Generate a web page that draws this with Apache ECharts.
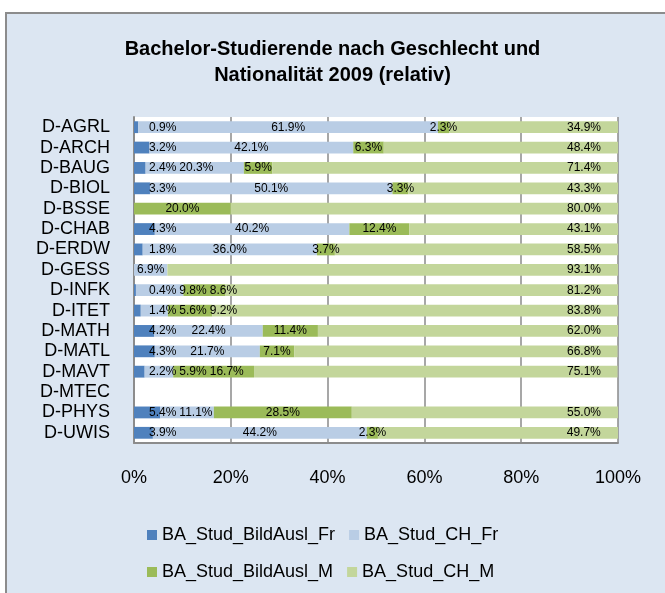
<!DOCTYPE html>
<html><head><meta charset="utf-8">
<script src="https://cdn.jsdelivr.net/npm/echarts@6/dist/echarts.min.js"></script>
<style>html,body{margin:0;padding:0;background:#fff;}#c{width:665px;height:593px;}</style>
</head><body><div id="c"></div>
<script>
const categories = ['D-AGRL','D-ARCH','D-BAUG','D-BIOL','D-BSSE','D-CHAB','D-ERDW','D-GESS','D-INFK','D-ITET','D-MATH','D-MATL','D-MAVT','D-MTEC','D-PHYS','D-UWIS'];
const seriesNames = ['BA_Stud_BildAusl_Fr','BA_Stud_CH_Fr','BA_Stud_BildAusl_M','BA_Stud_CH_M'];
const bildAuslFr = [0.9,3.2,2.4,3.3,null,4.3,1.8,null,0.4,1.4,4.2,4.3,2.2,null,5.4,3.9];
const chFr       = [61.9,42.1,20.3,50.1,null,40.2,36.0,6.9,9.8,5.6,22.4,21.7,5.9,null,11.1,44.2];
const bildAuslM  = [2.3,6.3,5.9,3.3,20.0,12.4,3.7,null,8.6,9.2,11.4,7.1,16.7,null,28.5,2.3];
const chM        = [34.9,48.4,71.4,43.3,80.0,43.1,58.5,93.1,81.2,83.8,62.0,66.8,75.1,null,55.0,49.7];
const xMin = 0, xMax = 100, xStep = 20;
const titleText = 'Bachelor-Studierende nach Geschlecht und\nNationalität 2009 (relativ)';

const seriesValues = [bildAuslFr, chFr, bildAuslM, chM];
const colors = ['#4F81BD','#B9CDE5','#9BBB59','#C3D69B'];
const FONT = '"Liberation Sans", Arial, sans-serif';
const LABEL_SIZE = 12;
const fmt = v => v.toFixed(1) + '%';

const chart = echarts.init(document.getElementById('c'), null, {renderer:'canvas'});

function buildSeries(offsets){
  return seriesNames.map((name, s) => ({
    name, type:'bar', stack:'total', barCategoryGap:'42%',
    itemStyle:{color:colors[s]},
    label:{show:true, position:'inside', color:'#000', fontSize:LABEL_SIZE, fontFamily:FONT,
      formatter: p => (typeof p.value === 'number') ? fmt(p.value) : ''},
    emphasis:{disabled:true},
    data: seriesValues[s].map((v, i) => v == null ? '-' :
      (offsets ? {value:v, label:{offset:[offsets[s][i], 0]}} : v))
  }));
}

const option = {
  animation:false,
  backgroundColor:'#ffffff',
  textStyle:{fontFamily:FONT},
  graphic:[{type:'rect', z:-100, silent:true,
    shape:{x:6, y:13, width:720, height:700},
    style:{fill:'#DCE6F2', stroke:'#8C8C8C', lineWidth:2}}],
  title:{text:titleText, left:'center', top:31,
    textStyle:{fontSize:20, fontWeight:'bold', lineHeight:26, color:'#000', fontFamily:FONT}},
  grid:{left:134, right:47, top:117, bottom:150, show:true, backgroundColor:'#ffffff', borderWidth:0},
  legend:[
    {data:[seriesNames[0], seriesNames[1]], left:147, top:526, padding:0, icon:'rect',
     itemWidth:10, itemHeight:10, itemGap:14, selectedMode:false,
     textStyle:{fontSize:18, color:'#000', fontFamily:FONT}},
    {data:[seriesNames[2], seriesNames[3]], left:147, top:563, padding:0, icon:'rect',
     itemWidth:10, itemHeight:10, itemGap:14, selectedMode:false,
     textStyle:{fontSize:18, color:'#000', fontFamily:FONT}}
  ],
  xAxis:{type:'value', min:xMin, max:xMax, interval:xStep,
    axisLine:{show:true, lineStyle:{color:'#8C8C8C', width:2}},
    axisTick:{show:false},
    splitLine:{show:true, lineStyle:{color:'#8A8A8A', width:1.5}},
    axisLabel:{formatter:'{value}%', fontSize:18, color:'#000', margin:26, fontFamily:FONT}},
  yAxis:{type:'category', data:categories, inverse:true,
    axisLine:{show:true, lineStyle:{color:'#8C8C8C', width:2}},
    axisTick:{show:false},
    axisLabel:{interval:0, fontSize:18, color:'#000', margin:24, fontFamily:FONT}},
  series: buildSeries(null)
};
chart.setOption(option);

// label placement: centered in segment, then pushed right to avoid overlaps
const ctx = document.createElement('canvas').getContext('2d');
ctx.font = LABEL_SIZE + 'px ' + FONT;
const px = v => chart.convertToPixel({xAxisIndex:0}, v);
const pl = px(xMin), pr = px(xMax);
const offsets = seriesNames.map(() => categories.map(() => 0));
categories.forEach((c, i) => {
  let cum = 0, prevRight = -Infinity;
  seriesValues.forEach((arr, s) => {
    const v = arr[i];
    if (v == null) return;
    const a = px(cum), b = px(cum + v); cum += v;
    const seg = (a + b) / 2;
    const w = ctx.measureText(fmt(v)).width;
    let lft;
    if (s === 0) lft = pl + 15;
    else if (s === seriesValues.length - 1) lft = pr - 17 - w;
    else lft = seg - w / 2;
    lft = Math.max(lft, prevRight + 3, pl + 1);
    prevRight = lft + w;
    offsets[s][i] = lft + w / 2 - seg;
  });
});
chart.setOption({series: buildSeries(offsets)});
</script></body></html>
